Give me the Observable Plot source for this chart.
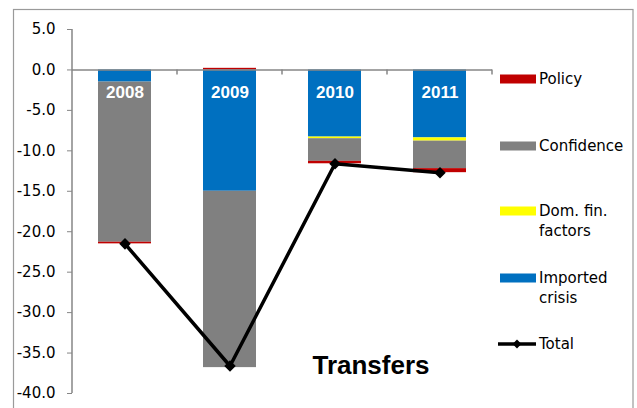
<!DOCTYPE html>
<html><head><meta charset="utf-8">
<script src="https://cdn.jsdelivr.net/npm/d3@7"></script>
<script src="https://cdn.jsdelivr.net/npm/@observablehq/plot@0.6"></script>
<style>
html,body{margin:0;padding:0;background:#fff;}
#chart{width:637px;height:408px;overflow:hidden;position:relative;}
</style></head><body><div id="chart"></div>
<script>
const years = ["2008", "2009", "2010", "2011"];
const series = ["Imported crisis", "Dom. fin. factors", "Confidence", "Policy"];
const imported = [-1.5, -15.0, -8.3, -8.4];
const domFin = [0.0, 0.0, -0.2, -0.4];
const confidence = [-19.8, -21.8, -2.8, -3.4];
const policy = [-0.2, 0.2, -0.3, -0.5];
const total = [-21.5, -36.6, -11.6, -12.7];
const yTicks = [5, 0, -5, -10, -15, -20, -25, -30, -35, -40];
const seriesColors = ["#0070C0", "#FFFF00", "#808080", "#C00000"];
const legendItems = [
  {label: ["Policy"], color: "#C00000"},
  {label: ["Confidence"], color: "#808080"},
  {label: ["Dom. fin.", "factors"], color: "#FFFF00"},
  {label: ["Imported", "crisis"], color: "#0070C0"},
  {label: ["Total"], color: "black", line: true}
];
const chartTitle = "Transfers";

const valuesBySeries = [imported, domFin, confidence, policy];
const stackData = [];
years.forEach((yr, i) => {
  series.forEach((s, j) => stackData.push({year: yr, series: s, value: valuesBySeries[j][i]}));
});
const totalData = years.map((yr, i) => ({year: yr, total: total[i]}));

const axisGray = "#868686";
const plot = Plot.plot({
  width: 637, height: 408,
  marginLeft: 72, marginRight: 145, marginTop: 29, marginBottom: 15,
  x: {domain: years, paddingInner: 0.5, paddingOuter: 0.25, axis: null},
  y: {domain: [-40, 5], axis: null},
  color: {domain: series, range: seriesColors},
  style: {fontFamily: "DejaVu Sans", fontSize: "15px", background: "white", overflow: "visible", color: "black"},
  marks: [
    Plot.barY(stackData, {x: "year", y: "value", fill: "series", z: "series"}),
    Plot.ruleY([0], {stroke: axisGray, strokeWidth: 1.5}),
    Plot.axisY({ticks: yTicks, tickSize: 5, tickPadding: 12, tickFormat: d => d.toFixed(1), stroke: axisGray, fill: "black", fontSize: 15, label: null}),
    Plot.text(years, {x: d => d, y: () => 0, dy: 23, text: d => d, fill: "white", fontWeight: "bold", fontSize: 17, fontFamily: "Liberation Sans"}),
    Plot.line(totalData, {x: "year", y: "total", stroke: "black", strokeWidth: 3.5}),
    Plot.dot(totalData, {x: "year", y: "total", symbol: "diamond2", r: 5.2, fill: "black", stroke: "none"})
  ]
});
document.getElementById("chart").appendChild(plot);

const svg = d3.select(plot);
const xs = plot.scale("x"), ys = plot.scale("y");
const y0 = ys.apply(0);
const yTop = ys.apply(5), yBot = ys.apply(-40);
const left = 72;
// y axis line
svg.append("line").attr("x1", left).attr("x2", left).attr("y1", yTop).attr("y2", yBot)
  .attr("stroke", axisGray).attr("stroke-width", 1.5);
// category boundary ticks on zero line
years.forEach(yr => {
  const bx = xs.apply(yr) + xs.bandwidth + (xs.step - xs.bandwidth) / 2;
  svg.append("line").attr("x1", bx).attr("x2", bx).attr("y1", y0).attr("y2", y0 + 5)
    .attr("stroke", axisGray).attr("stroke-width", 1.5);
});
// outer frame
svg.append("rect").attr("x", 13.5).attr("y", 9.5).attr("width", 619.5).attr("height", 420)
  .attr("fill", "none").attr("stroke", "#9a9a9a").attr("stroke-width", 1.2);
// title annotation
svg.append("text").attr("x", 371).attr("y", 374).attr("text-anchor", "middle")
  .attr("font-family", "Liberation Sans").attr("font-weight", "bold").attr("font-size", 26)
  .attr("fill", "black").text(chartTitle);
// legend
const legendY = [79, 146, 211, 278, 344];
const lg = svg.append("g").attr("font-family", "DejaVu Sans").attr("font-size", 15)
  .attr("fill", "black").attr("text-anchor", "start");
legendItems.forEach((it, i) => {
  const cy = legendY[i];
  if (it.line) {
    lg.append("line").attr("x1", 498).attr("x2", 536).attr("y1", cy).attr("y2", cy)
      .attr("stroke", "black").attr("stroke-width", 3.5);
    lg.append("path").attr("d", d3.symbol(d3.symbolDiamond2, 50)()).attr("transform", `translate(517,${cy})`).attr("fill", "black");
  } else {
    lg.append("rect").attr("x", 500).attr("y", cy - 4.5).attr("width", 36).attr("height", 9).attr("fill", it.color);
  }
  it.label.forEach((t, k) => {
    lg.append("text").attr("x", 539).attr("y", cy + k * 20).attr("dy", "0.36em")
      .attr("text-anchor", "start").text(t);
  });
});
</script></body></html>
